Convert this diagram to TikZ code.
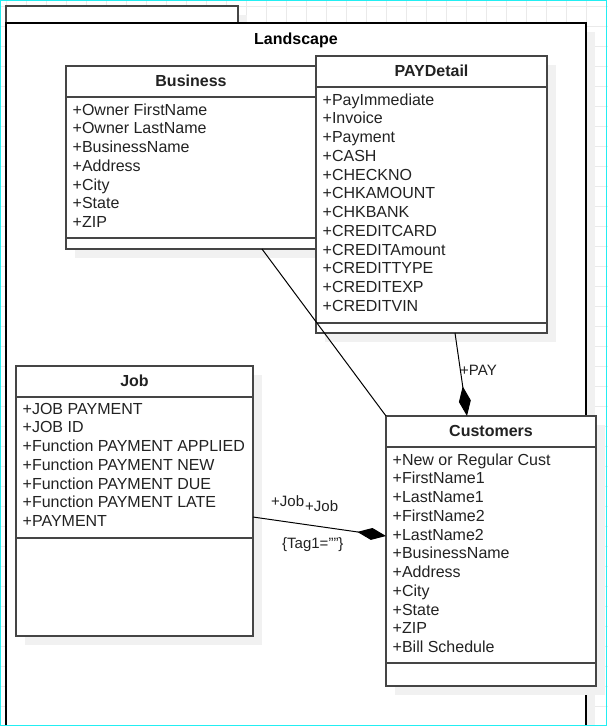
\documentclass[tikz,border=0pt]{standalone}
\usepackage{fontspec}
\setmainfont{Liberation Sans}
\usetikzlibrary{arrows.meta}
\definecolor{gridc}{HTML}{EAEAEA}
\definecolor{shad}{HTML}{F1F1F1}
\definecolor{bordc}{HTML}{454545}
\definecolor{txtc}{HTML}{222222}
\definecolor{framec}{HTML}{22EEF2}
\begin{document}
\begin{tikzpicture}[x=1pt,y=-1pt,
  cls/.style={draw=bordc, line width=1.3pt, fill=white, anchor=north west, inner sep=0pt, outer sep=0pt},
  sepline/.style={draw=bordc, line width=1.3pt},
  item/.style={anchor=base west, inner sep=0pt, font=\fontsize{16}{19}\selectfont, text=txtc},
  ttl/.style={anchor=base, inner sep=0pt, font=\bfseries\fontsize{16}{19}\selectfont, text=txtc},
  lbl/.style={anchor=base west, inner sep=0pt, font=\fontsize{15}{18}\selectfont, text=txtc},
  conn/.style={draw=black, line width=1pt},
  shadowfill/.style={fill=shad}
]
\useasboundingbox (0,0) rectangle (608,726);
\clip (0,0) rectangle (608,726);
\fill[white] (0,0) rectangle (608,726);
% grid
\draw[gridc, line width=0.8pt] foreach \x in {6,26,...,606} {(\x,0) -- (\x,726)};
\draw[gridc, line width=0.8pt] foreach \y in {6,26,...,726} {(0,\y) -- (608,\y)};

% Landscape container
\fill[shadowfill] (15,32) rectangle (595,740);
\fill[shadowfill] (15,15) rectangle (247,32);
\node[cls, line width=1.1pt, minimum width=232pt, minimum height=17pt] (tab) at (6,6) {};
\node[cls, draw=black, minimum width=580pt, minimum height=730pt] (land) at (6,23) {};
\node[ttl, text=black] (landt) at (296,44) {Landscape};

% Business
\fill[shadowfill] (75,75) rectangle (325,258);
\node[cls, minimum width=250pt, minimum height=183pt] (business) at (66,66) {};
\draw[sepline] (66,97) -- (316,97);
\draw[sepline] (66,238) -- (316,238);
\node[ttl] (businesst) at (191,86) {Business};
\foreach \t [count=\i from 0] in {+Owner FirstName,+Owner LastName,+BusinessName,+Address,+City,+State,+ZIP}
  \node[item] (b\i) at (72.5,115+18.75*\i) {\t};

% PAYDetail
\fill[shadowfill] (325,65) rectangle (556,342);
\node[cls, minimum width=231pt, minimum height=277pt] (paydetail) at (316,56) {};
\draw[sepline] (316,87) -- (547,87);
\draw[sepline] (316,323) -- (547,323);
\node[ttl] (paydetailt) at (431.5,76.7) {PAYDetail};
\foreach \t [count=\i from 0] in {+PayImmediate,+Invoice,+Payment,+CASH,+CHECKNO,+CHKAMOUNT,+CHKBANK,+CREDITCARD,+CREDITAmount,+CREDITTYPE,+CREDITEXP,+CREDITVIN}
  \node[item] (p\i) at (322.5,105+18.75*\i) {\t};

% Job
\fill[shadowfill] (25,375) rectangle (262,645);
\node[cls, minimum width=237pt, minimum height=270pt] (job) at (16,366) {};
\draw[sepline] (16,397) -- (253,397);
\draw[sepline] (16,538) -- (253,538);
\node[ttl] (jobt) at (134.5,386.7) {Job};
\foreach \t [count=\i from 0] in {+JOB PAYMENT,+JOB ID,+Function PAYMENT APPLIED,+Function PAYMENT NEW,+Function PAYMENT DUE,+Function PAYMENT LATE,+PAYMENT}
  \node[item] (j\i) at (22.5,414+18.75*\i) {\t};

% Customers
\fill[shadowfill] (395,425) rectangle (605,695);
\node[cls, minimum width=210pt, minimum height=270pt] (customers) at (386,416) {};
\draw[sepline] (386,447) -- (596,447);
\draw[sepline] (386,663) -- (596,663);
\node[ttl] (customerst) at (491,436.7) {Customers};
\foreach \t [count=\i from 0] in {+New or Regular Cust,+FirstName1,+LastName1,+FirstName2,+LastName2,+BusinessName,+Address,+City,+State,+ZIP,+Bill Schedule}
  \node[item] (c\i) at (392.5,465+18.75*\i) {\t};

% connectors
\draw[conn] ([xshift=71pt]business.south) -- (customers.north west);
\draw[conn, -{Diamond[length=30pt,width=12pt]}] ([xshift=23.5pt]paydetail.south) -- ([xshift=-24pt]customers.north);
\draw[conn, -{Diamond[length=29pt,width=12pt]}] ([yshift=-16pt]job.east) -- ([yshift=15pt]customers.west);

% labels
\node[lbl] (paylbl) at (460,375) {+PAY};
\node[lbl] (joblbla) at (271,506.7) {+Job};
\node[lbl] (joblblb) at (305,511.5) {+Job};
\node[lbl] (taglbl) at (282,548.5) {\{Tag1=""\}};

% outer frame
\draw[framec, line width=1.2pt] (0.6,0.6) rectangle (606.4,725.2);
\end{tikzpicture}
\end{document}
